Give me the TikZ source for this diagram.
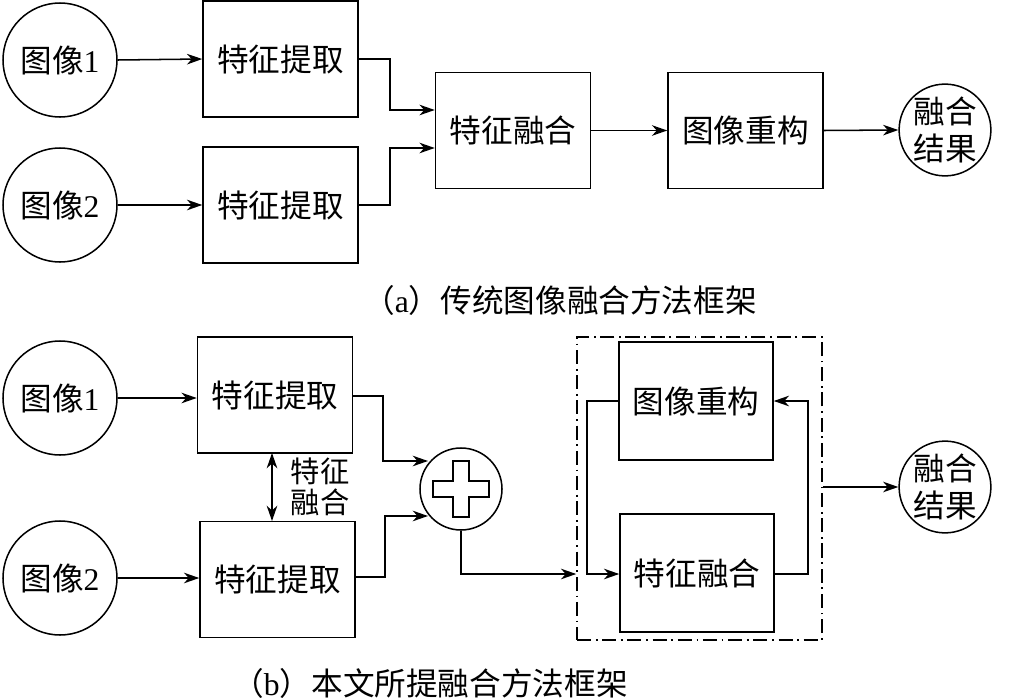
\documentclass[tikz,border=0pt]{standalone}
\usepackage{fontspec}
\setmainfont{Liberation Serif}
\newfontfamily\cjk{Noto Sans CJK SC}
\usetikzlibrary{arrows.meta}
\begin{document}
\begin{tikzpicture}[x=0.03cm,y=-0.03cm,
  every node/.style={font=\cjk\fontsize{27}{30}\selectfont},
  box/.style={draw,line width=1.3pt,minimum width=155*0.03cm,minimum height=116*0.03cm,inner sep=0pt},
  circ/.style={draw,circle,line width=1.3pt,inner sep=0pt},
  arr/.style={-{Stealth[length=13pt,width=9pt,inset=4pt]},line width=1.3pt},
  ln/.style={line width=1.3pt}]
\useasboundingbox (0,0) rectangle (1025,700);
% (a)
\node[circ,minimum size=114*0.03cm] (a1) at (60,60) {图像{\rmfamily\fontsize{27}{30}\selectfont 1}};
\node[circ,minimum size=114*0.03cm] (a2) at (60,205) {图像{\rmfamily\fontsize{27}{30}\selectfont 2}};
\node[box] (af1) at (280.5,59) {特征提取};
\node[box] (af2) at (280.5,205) {特征提取};
\node[box] (afu) at (513,130.5) {特征融合};
\node[box] (are) at (745.5,130.5) {图像重构};
\node[circ,minimum size=90*0.03cm,align=center,font=\cjk\fontsize{27}{32}\selectfont] (ares) at (945,130) {融合\\结果};
\draw[arr] (a1.east) -- (af1.west);
\draw[arr] (a2.east) -- (af2.west);
\draw[arr] (af1.east) -- (390,59) -- (390,110) -- (afu.west |- 0,110);
\draw[arr] (af2.east) -- (390,205) -- (390,148) -- (afu.west |- 0,148);
\draw[arr] (afu.east) -- (are.west);
\draw[arr] (are.east) -- (ares.west);
\node (capa) at (560,300) {（{\rmfamily a}）传统图像融合方法框架};
% (b)
\node[circ,minimum size=114*0.03cm] (b1) at (60,398) {图像{\rmfamily\fontsize{27}{30}\selectfont 1}};
\node[circ,minimum size=114*0.03cm] (b2) at (60,578) {图像{\rmfamily\fontsize{27}{30}\selectfont 2}};
\node[box] (bf1) at (275,395) {特征提取};
\node[box] (bf2) at (277.5,579.5) {特征提取};
\draw[arr] (b1.east) -- (bf1.west |- b1.east);
\draw[arr] (b2.east) -- (bf2.west |- b2.east);
\draw[ln,{Stealth[length=13pt,width=9pt,inset=4pt]}-{Stealth[length=13pt,width=9pt,inset=4pt]}] (272,453) -- (272,521);
\node[align=center,font=\cjk\fontsize{25}{26}\selectfont] (lab) at (320,487) {特征\\融合};
\node[circ,minimum size=82*0.03cm] (plus) at (461,489) {};
\draw[ln] (461-8,489-28) -- (461+8,489-28) -- (461+8,489-8) -- (461+28,489-8) -- (461+28,489+8) -- (461+8,489+8) -- (461+8,489+28) -- (461-8,489+28) -- (461-8,489+8) -- (461-28,489+8) -- (461-28,489-8) -- (461-8,489-8) -- cycle;
\coordinate (p1) at (428,461);
\coordinate (p2) at (428,516);
\draw[arr] (bf1.east |- 0,396) -- (383,396) -- (383,461) -- (p1);
\draw[arr] (bf2.east |- 0,577) -- (385,577) -- (385,516) -- (p2);
\node[draw,line width=1.3pt,dash pattern=on 12pt off 4pt on 1.5pt off 4pt,minimum width=245*0.03cm,minimum height=303*0.03cm,inner sep=0pt] (dbox) at (699.5,488.5) {};
\node[box,minimum width=154*0.03cm,minimum height=118*0.03cm] (bre) at (696,401) {图像重构};
\node[box,minimum width=154*0.03cm,minimum height=118*0.03cm] (bfu) at (697,573) {特征融合};
\draw[arr] (plus.south) -- (461,574) -- (dbox.west |- 0,574);
\draw[arr] (bre.west) -- (587,401) -- (587,574) -- (bfu.west |- 0,574);
\draw[arr] (bfu.east |- 0,574) -- (808,574) -- (808,401) -- (bre.east);
\node[circ,minimum size=90*0.03cm,align=center,font=\cjk\fontsize{27}{32}\selectfont] (bres) at (945,487) {融合\\结果};
\draw[arr] (dbox.east |- 0,487) -- (bres.west);
\node (capb) at (430,683) {（{\rmfamily b}）本文所提融合方法框架};
\end{tikzpicture}
\end{document}
